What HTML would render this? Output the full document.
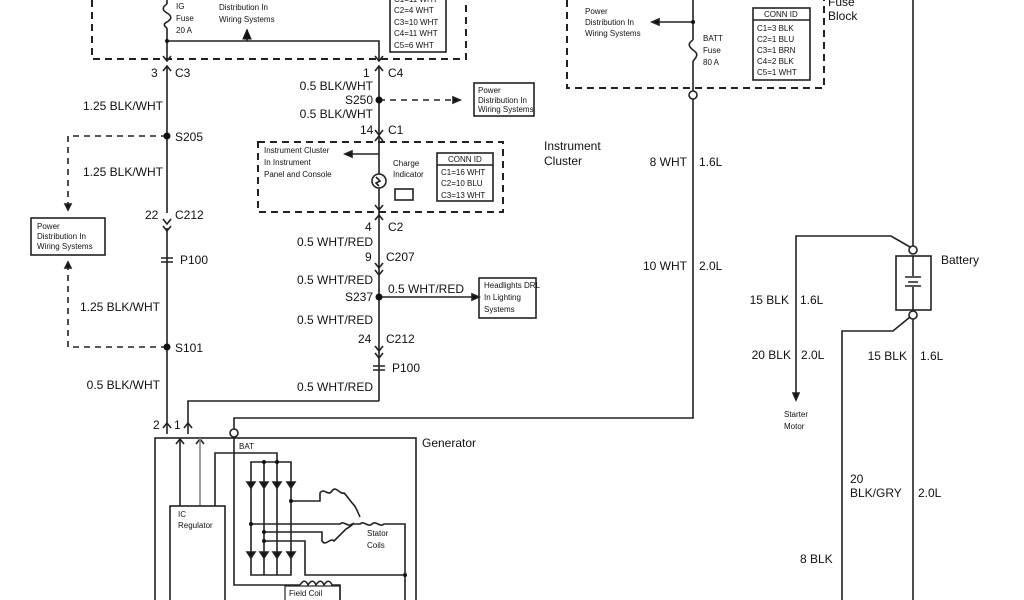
<!DOCTYPE html>
<html><head><meta charset="utf-8"><style>
html,body{margin:0;padding:0;background:#fff;}
svg{display:block;}
text{font-family:"Liberation Sans",Arial,sans-serif;fill:#111;}
.l{font-size:12px;}
.s{font-size:8px;}
.r{text-anchor:end;}
</style></head><body>
<svg width="1024" height="600" viewBox="0 0 1024 600" xmlns="http://www.w3.org/2000/svg">
<defs>
<marker id="ar" markerWidth="8" markerHeight="8" refX="6" refY="4" orient="auto"><path d="M0,1 L7,4 L0,7 z" fill="#111"/></marker>
</defs>
<g stroke="#222" stroke-width="1.6" fill="none">
<path d="M92,0 V59 H466 V0" stroke-dasharray="7,5" stroke-width="2"/>
<path d="M167,0 V4 M167,28 V61"/>
<path d="M167,4 c-5,3 -5,6 0,9 c5,3 5,6 0,9 c-4,2 -3,4 0,6"/>
<path d="M167,41 H379 V61"/>
<path d="M247,41 V30" marker-end="url(#ar)"/>
<rect x="390" y="-2" width="56" height="54" stroke-width="1.6"/>
<path d="M163,56 l4,5 l4,-5 M375,56 l4,5 l4,-5"/>
<path d="M163,71 l4,-5 l4,5 M375,71 l4,-5 l4,5"/>
<path d="M167,66 V213 M167,228 V434"/>
<path d="M163,219 l4,5 l4,-5 M163,226 l4,5 l4,-5"/>
<path d="M161,258 h12 M161,262 h12"/>
<path d="M167,136 H68 V208" stroke-dasharray="6,5"/>
<path d="M68,210 l-3,-6 h6z" fill="#111"/>
<rect x="31" y="218" width="74" height="37" stroke-width="1.6"/>
<path d="M167,347 H68 V266" stroke-dasharray="6,5"/>
<path d="M68,262 l-3,6 h6z" fill="#111"/>
<path d="M163,428 l4,-5 l4,5 M184,428 l4,-5 l4,5"/>
<path d="M188,434 V401 H379"/>
<path d="M379,66 V401"/>
<path d="M379,100 H452" stroke-dasharray="6,5"/>
<path d="M460,100 l-7,-3 v6z" fill="#111"/>
<rect x="474" y="83" width="60" height="33" stroke-width="1.6"/>
<path d="M375,130 l4,5 l4,-5 M375,141 l4,-5 l4,5"/>
<path d="M258,142 H503 V212 H258 Z" stroke-dasharray="7,5" stroke-width="2"/>
<path d="M379,154 H349"/>
<path d="M345,154 l7,-3 v6z" fill="#111"/>
<circle cx="379" cy="181" r="7" fill="#fff"/>
<path d="M376,177 l4,4 l-4,2 l3,3"/>
<rect x="395" y="189" width="18" height="11"/>
<rect x="437" y="153" width="56" height="48" stroke-width="1.6"/>
<path d="M437,165 H493"/>
<path d="M375,205 l4,5 l4,-5 M375,220 l4,-5 l4,5"/>
<path d="M375,263 l4,5 l4,-5 M375,270 l4,5 l4,-5"/>
<path d="M379,297 H472"/>
<path d="M479,297 l-7,-3 v6z" fill="#111"/>
<rect x="479" y="278" width="57" height="40" stroke-width="1.6"/>
<path d="M375,346 l4,5 l4,-5 M375,353 l4,5 l4,-5"/>
<path d="M373,366 h12 M373,370 h12"/>
<circle cx="234" cy="433" r="4" fill="#fff"/>
<path d="M234,429 V418 H693 V99"/>
<circle cx="693" cy="95" r="4" fill="#fff"/>
<path d="M567,0 V88 H824 V0" stroke-dasharray="7,5" stroke-width="2"/>
<path d="M693,0 V40 M693,61 V91"/>
<path d="M693,40 c-5,3 -5,6 0,10 c5,3 5,6 0,11"/>
<path d="M693,22 H656"/>
<path d="M652,22 l7,-3 v6z" fill="#111"/>
<rect x="753" y="8" width="57" height="72" stroke-width="1.6"/>
<path d="M753,20 H810"/>
<path d="M913,0 V246"/>
<circle cx="913" cy="250" r="4" fill="#fff"/>
<rect x="896" y="256" width="35" height="54" stroke-width="1.6"/>
<path d="M913,256 V276 M905,277 h16 M908,282 h10 M905,286 h16 M913,287 V310"/>
<circle cx="913" cy="315" r="4" fill="#fff"/>
<path d="M910,247 L891,236 H796 V394"/>
<path d="M796,400 l-3,-7 h6z" fill="#111"/>
<path d="M913,319 V600 M910,317 L893,331 H842 V600"/>
<rect x="155" y="438" width="261" height="170" stroke-width="1.6"/>
<path d="M176,444 l4,-5 l4,5 M196,444 l4,-5 l4,5"/>
<path d="M180,438 V506"/><path d="M200,438 V506" stroke="#888"/>
<rect x="170" y="506" width="55" height="100" stroke-width="1.6"/>
<path d="M215,506 V453 H277 V462"/>
<path d="M234,437 V585 H300"/>
<path d="M251,462 H291 V575 H251 Z M264,462 V575 M277,462 V575"/>
<g fill="#111">
<path d="M247,482 h8 l-4,6z M260,482 h8 l-4,6z M273,482 h8 l-4,6z M287,482 h8 l-4,6z"/>
<path d="M247,552 h8 l-4,6z M260,552 h8 l-4,6z M273,552 h8 l-4,6z M287,552 h8 l-4,6z"/>
</g>
<path d="M291,501 H320 V493 c4,-6 8,4 12,-2 c4,-6 8,4 12,2 c4,4 6,8 10,12 c3,4 4,8 6,12"/>
<path d="M251,524 H340 c4,-4 8,4 12,0 H360 c4,-4 8,4 12,0 c4,-4 8,4 12,0 H405 V600"/>
<path d="M264,532 H322 V541 c4,6 8,-4 12,0 c4,-4 8,-8 12,-12 c4,-2 6,-4 8,-6"/>
<path d="M264,541 H305 V575 H405"/>
<path d="M300,585 c3,-5 6,-5 8,0 c3,-5 6,-5 8,0 c3,-5 6,-5 8,0 c3,-5 6,-5 8,0 H340 V600"/>
<rect x="285" y="586" width="55" height="16" stroke-width="1.2"/>
</g>
<g fill="#111">
<circle cx="167" cy="136" r="3.5"/><circle cx="167" cy="347" r="3.5"/>
<circle cx="379" cy="100" r="3.5"/><circle cx="379" cy="297" r="3.5"/>
<circle cx="167" cy="41" r="2"/><circle cx="693" cy="22" r="2"/>
<circle cx="251" cy="524" r="2"/><circle cx="264" cy="532" r="2"/><circle cx="264" cy="541" r="2"/><circle cx="291" cy="501" r="2"/>
<circle cx="405" cy="575" r="2"/><circle cx="264" cy="462" r="2"/><circle cx="277" cy="462" r="2"/>
</g>
<text class="s" x="176" y="9">IG</text><text class="s" x="176" y="21">Fuse</text><text class="s" x="176" y="33">20 A</text>
<text class="s" x="219" y="10">Distribution In</text><text class="s" x="219" y="22">Wiring Systems</text>
<text class="s" x="394" y="2">C1=11 WHT</text>
<text class="s" x="394" y="13">C2=4 WHT</text><text class="s" x="394" y="25">C3=10 WHT</text><text class="s" x="394" y="36">C4=11 WHT</text><text class="s" x="394" y="48">C5=6 WHT</text>
<text class="l" x="151" y="77">3</text><text class="l" x="175" y="77">C3</text>
<text class="l r" x="163" y="110">1.25 BLK/WHT</text>
<text class="l" x="175" y="141">S205</text>
<text class="l r" x="163" y="176">1.25 BLK/WHT</text>
<text class="l" x="145" y="219">22</text><text class="l" x="175" y="219">C212</text>
<text class="s" x="37" y="229">Power</text><text class="s" x="37" y="239">Distribution In</text><text class="s" x="37" y="249">Wiring Systems</text>
<text class="l" x="180" y="264">P100</text>
<text class="l r" x="160" y="311">1.25 BLK/WHT</text>
<text class="l" x="175" y="352">S101</text>
<text class="l r" x="160" y="389">0.5 BLK/WHT</text>
<text class="l" x="153" y="429">2</text><text class="l" x="174" y="429">1</text>
<text class="l" x="363" y="77">1</text><text class="l" x="388" y="77">C4</text>
<text class="l r" x="373" y="90">0.5 BLK/WHT</text>
<text class="l r" x="373" y="104">S250</text>
<text class="l r" x="373" y="118">0.5 BLK/WHT</text>
<text class="s" x="478" y="93">Power</text><text class="s" x="478" y="103">Distribution In</text><text class="s" x="478" y="112">Wiring Systems</text>
<text class="l" x="360" y="134">14</text><text class="l" x="388" y="134">C1</text>
<text class="l" x="544" y="150">Instrument</text><text class="l" x="544" y="165">Cluster</text>
<text class="s" x="264" y="153">Instrument Cluster</text><text class="s" x="264" y="165">In Instrument</text><text class="s" x="264" y="177">Panel and Console</text>
<text class="s" x="393" y="166">Charge</text><text class="s" x="393" y="177">Indicator</text>
<text class="s" x="448" y="162">CONN ID</text><text class="s" x="441" y="175">C1=16 WHT</text><text class="s" x="441" y="186">C2=10 BLU</text><text class="s" x="441" y="198">C3=13 WHT</text>
<text class="l" x="365" y="231">4</text><text class="l" x="388" y="231">C2</text>
<text class="l r" x="373" y="246">0.5 WHT/RED</text>
<text class="l" x="365" y="261">9</text><text class="l" x="386" y="261">C207</text>
<text class="l r" x="373" y="284">0.5 WHT/RED</text>
<text class="l r" x="373" y="301">S237</text>
<text class="l" x="388" y="293">0.5 WHT/RED</text>
<text class="s" x="484" y="288">Headlights DRL</text><text class="s" x="484" y="300">In Lighting</text><text class="s" x="484" y="312">Systems</text>
<text class="l r" x="373" y="324">0.5 WHT/RED</text>
<text class="l" x="358" y="343">24</text><text class="l" x="386" y="343">C212</text>
<text class="l" x="392" y="372">P100</text>
<text class="l r" x="373" y="391">0.5 WHT/RED</text>
<text class="l" x="422" y="447">Generator</text>
<text class="s" x="239" y="449">BAT</text>
<text class="s" x="178" y="517">IC</text><text class="s" x="178" y="528">Regulator</text>
<text class="s" x="367" y="536">Stator</text><text class="s" x="367" y="548">Coils</text>
<text class="s" x="289" y="596">Field Coil</text>
<text class="s" x="585" y="14">Power</text><text class="s" x="585" y="25">Distribution In</text><text class="s" x="585" y="36">Wiring Systems</text>
<text class="s" x="703" y="41">BATT</text><text class="s" x="703" y="53">Fuse</text><text class="s" x="703" y="65">80 A</text>
<text class="s" x="764" y="17">CONN ID</text><text class="s" x="757" y="31">C1=3 BLK</text><text class="s" x="757" y="42">C2=1 BLU</text><text class="s" x="757" y="53">C3=1 BRN</text><text class="s" x="757" y="64">C4=2 BLK</text><text class="s" x="757" y="75">C5=1 WHT</text>
<text class="l" x="828" y="6">Fuse</text><text class="l" x="828" y="20">Block</text>
<text class="l r" x="687" y="166">8 WHT</text><text class="l" x="699" y="166">1.6L</text>
<text class="l r" x="687" y="270">10 WHT</text><text class="l" x="699" y="270">2.0L</text>
<text class="l" x="941" y="264">Battery</text>
<text class="l r" x="789" y="304">15 BLK</text><text class="l" x="800" y="304">1.6L</text>
<text class="l r" x="791" y="359">20 BLK</text><text class="l" x="801" y="359">2.0L</text>
<text class="s" x="784" y="417">Starter</text><text class="s" x="784" y="429">Motor</text>
<text class="l r" x="907" y="360">15 BLK</text><text class="l" x="920" y="360">1.6L</text>
<text class="l" x="850" y="483">20</text><text class="l" x="850" y="497">BLK/GRY</text><text class="l" x="918" y="497">2.0L</text>
<text class="l" x="800" y="563">8 BLK</text>
</svg>
</body></html>
